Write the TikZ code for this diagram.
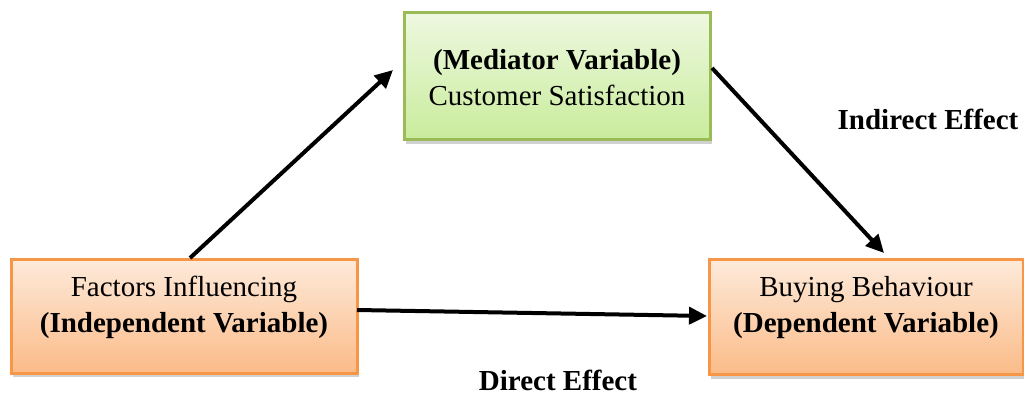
\documentclass[tikz,border=0pt]{standalone}
\usepackage{fontspec}
\setmainfont{Liberation Serif}
\usetikzlibrary{shadows,arrows.meta}
\definecolor{grnborder}{HTML}{9BBB59}
\definecolor{grntop}{HTML}{EEF8E0}
\definecolor{grnbot}{HTML}{C9EC9C}
\definecolor{orgborder}{HTML}{F79646}
\definecolor{orgtop}{HTML}{FDEADA}
\definecolor{orgbot}{HTML}{FBBB88}
\tikzset{
  box/.style={draw, line width=3pt, inner sep=0pt,
    drop shadow={shadow xshift=2pt, shadow yshift=-4pt, opacity=0.3, fill=black!60}},
  greenbox/.style={box, draw=grnborder, top color=grntop, bottom color=grnbot},
  orangebox/.style={box, draw=orgborder, top color=orgtop, bottom color=orgbot},
  boxtext/.style={align=center, inner sep=0pt, font=\fontsize{29}{36}\selectfont},
  conn/.style={line width=4pt, -{Triangle[length=18pt,width=17pt]}},
  lbl/.style={inner sep=0pt, font=\bfseries\fontsize{29}{32}\selectfont}
}
\begin{document}
\begin{tikzpicture}[x=1pt,y=-1pt]
\useasboundingbox (0,0) rectangle (1024,396);
\node[greenbox, minimum width=306pt, minimum height=127pt] (med) at (557,76) {};
\node[orangebox, minimum width=346pt, minimum height=114pt] (ind) at (184,316) {};
\node[orangebox, minimum width=314pt, minimum height=115pt] (dep) at (866,317) {};
\node[boxtext] (medtxt) at (557,78) {\textbf{(Mediator Variable)}\\Customer Satisfaction};
\node[boxtext] (indtxt) at (184,307) {Factors Influencing\\\textbf{(Independent Variable)}};
\node[boxtext] (deptxt) at (866,308) {Buying Behaviour\\\textbf{(Dependent Variable)}};
\coordinate (a1s) at (190,258);
\coordinate (a1e) at (393,70);
\coordinate (a2s) at (712,68);
\coordinate (a2e) at (884,253);
\coordinate (a3s) at (357,310);
\coordinate (a3e) at (707,316);
\draw[conn] (a1s) -- (a1e);
\draw[conn] (a2s) -- (a2e);
\draw[conn] (a3s) -- (a3e);
\node[lbl] (indeff) at (928,119) {Indirect Effect};
\node[lbl] (direff) at (558,380) {Direct Effect};
\end{tikzpicture}
\end{document}
